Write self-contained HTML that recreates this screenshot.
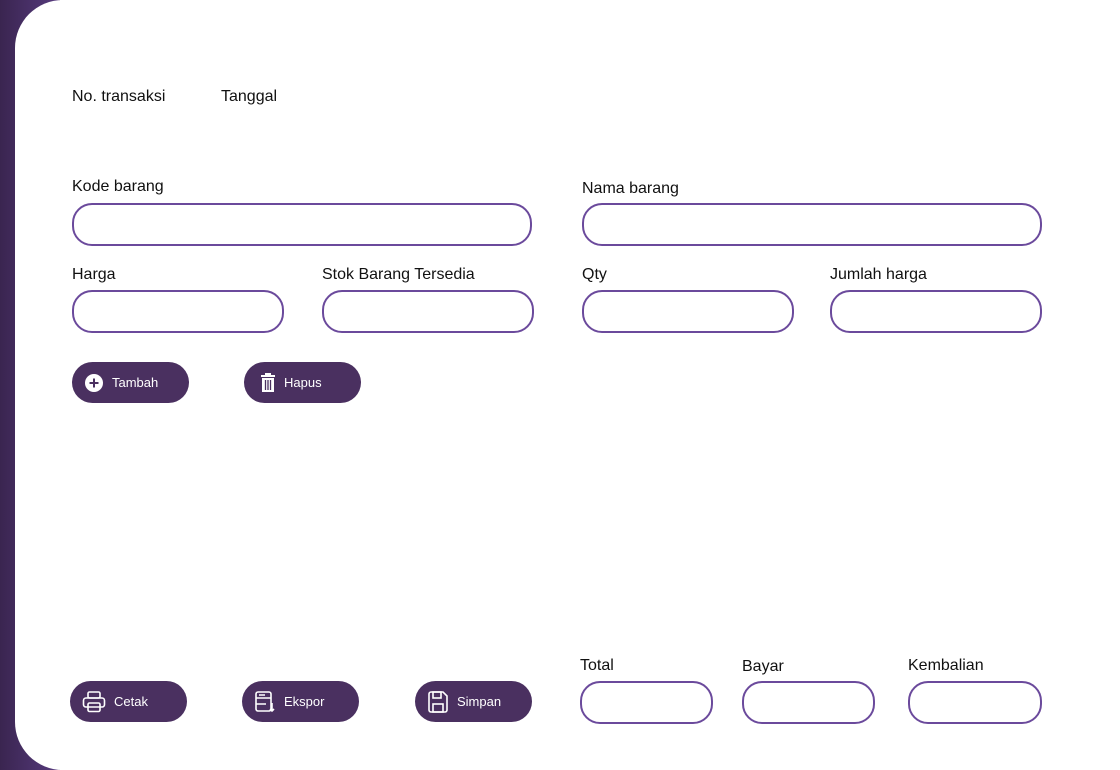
<!DOCTYPE html>
<html><head><style>
*{margin:0;padding:0;box-sizing:border-box}
body{width:1120px;height:770px;position:relative;overflow:hidden;background:#fff;font-family:"Liberation Sans",sans-serif;}
.strip{position:absolute;left:0;top:0;width:60px;height:770px;background:linear-gradient(90deg,#3a2550,#4e3470 70%,#5a3d80);}
.card{position:absolute;left:15px;top:0;width:1120px;height:770px;background:#fff;border-radius:48px 0 0 48px;}
.l{position:absolute;font-size:16px;color:#111;white-space:nowrap;line-height:18px}
.i{position:absolute;border:2px solid #6b4a9c;border-radius:20px;height:43px;background:#fff}
.b{position:absolute;height:41px;width:117px;border-radius:21px;background:#4a3060;color:#fff;font-size:13px;display:flex;align-items:center;padding-left:12px;gap:8px}
.b svg{flex:none}
</style></head><body>
<div class="strip"></div><div class="card"></div>
<div class="l" style="left:72px;top:88px">No. transaksi</div>
<div class="l" style="left:221px;top:88px">Tanggal</div>
<div class="l" style="left:72px;top:178px">Kode barang</div>
<div class="l" style="left:582px;top:180px">Nama barang</div>
<div class="i" style="left:72px;top:203px;width:460px"></div>
<div class="i" style="left:582px;top:203px;width:460px"></div>
<div class="l" style="left:72px;top:266px">Harga</div>
<div class="l" style="left:322px;top:266px">Stok Barang Tersedia</div>
<div class="l" style="left:582px;top:266px">Qty</div>
<div class="l" style="left:830px;top:266px">Jumlah harga</div>
<div class="i" style="left:72px;top:290px;width:212px"></div>
<div class="i" style="left:322px;top:290px;width:212px"></div>
<div class="i" style="left:582px;top:290px;width:212px"></div>
<div class="i" style="left:830px;top:290px;width:212px"></div>
<div class="b" style="left:72px;top:362px"><svg width="20" height="20" viewBox="0 0 20 20"><circle cx="10" cy="10" r="9" fill="#fff"/><path d="M10 5.5v9M5.5 10h9" stroke="#4a3060" stroke-width="2"/></svg>Tambah</div>
<div class="b" style="left:244px;top:362px;padding-left:16px"><svg width="16" height="20" viewBox="0 0 16 20"><rect x="1" y="2" width="14" height="2" fill="#fff"/><rect x="5" y="0" width="6" height="2" fill="#fff"/><rect x="2" y="5" width="12" height="14" fill="#fff"/><path d="M5.5 7v10M8 7v10M10.5 7v10" stroke="#4a3060" stroke-width="1.3"/></svg>Hapus</div>
<div class="b" style="left:70px;top:681px"><svg width="24" height="22" viewBox="0 0 24 22" fill="none" stroke="#fff" stroke-width="1.6"><rect x="6" y="1" width="12" height="6" rx="1.5"/><rect x="1.5" y="7" width="21" height="9" rx="2.5"/><rect x="6" y="12" width="12" height="8.5" rx="1.5"/></svg>Cetak</div>
<div class="b" style="left:242px;top:681px"><svg width="22" height="22" viewBox="0 0 22 22" fill="none" stroke="#fff" stroke-width="1.6"><rect x="2" y="1" width="15" height="19" rx="2"/><path d="M2 7h15M2 13h10M5 4h6M18 12v8M16 18l2 2 2-2"/></svg>Ekspor</div>
<div class="b" style="left:415px;top:681px"><svg width="22" height="22" viewBox="0 0 22 22" fill="none" stroke="#fff" stroke-width="1.6"><path d="M2 3a2 2 0 012-2h12l4 4v14a2 2 0 01-2 2H4a2 2 0 01-2-2z"/><rect x="6" y="1" width="8" height="6"/><rect x="6" y="13" width="10" height="8"/></svg>Simpan</div>
<div class="l" style="left:580px;top:657px">Total</div>
<div class="l" style="left:742px;top:658px">Bayar</div>
<div class="l" style="left:908px;top:657px">Kembalian</div>
<div class="i" style="left:580px;top:681px;width:133px"></div>
<div class="i" style="left:742px;top:681px;width:133px"></div>
<div class="i" style="left:908px;top:681px;width:134px"></div>
</body></html>
